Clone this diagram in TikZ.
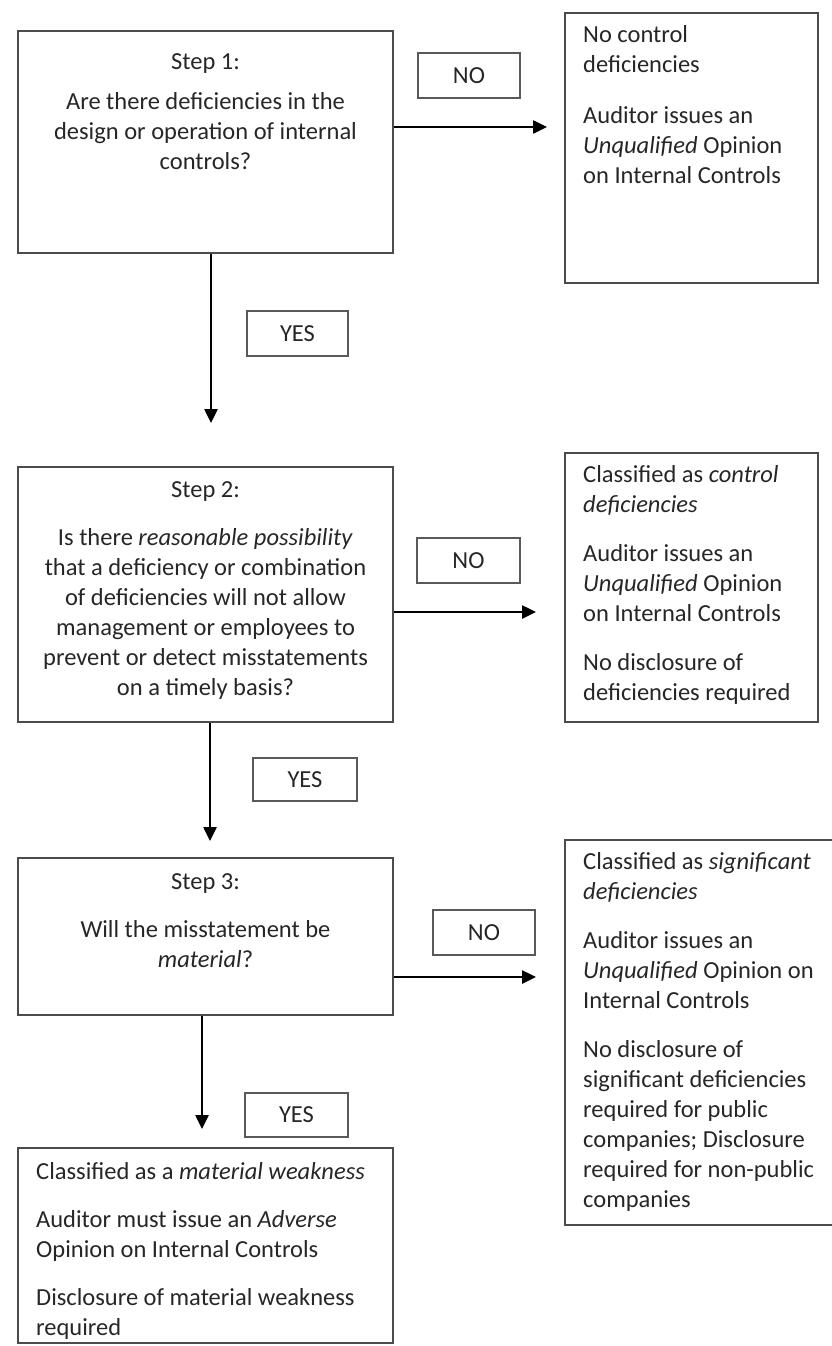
\documentclass[tikz,border=0pt]{standalone}
\usepackage{fontspec}
\setmainfont{Carlito}
\usetikzlibrary{arrows.meta}
\begin{document}
\begin{tikzpicture}[x=1pt,y=-1pt,
  box/.style={draw=black!70, line width=2pt, rectangle, inner sep=0pt},
  lbl/.style={draw=black!65, line width=1.5pt, rectangle, inner sep=0pt,
    font=\fontsize{24.5}{30}\selectfont, text=black!85},
  txt/.style={inner sep=0pt, font=\fontsize{24.5}{30}\selectfont, text=black!85},
  arr/.style={line width=2.5pt, -{Triangle[length=14pt,width=13pt]}}]
\useasboundingbox (0,0) rectangle (831,1346);
% main boxes
\node[box, minimum width=375pt, minimum height=222pt] (s1) at (205.5,142) {};
\node[box, minimum width=253pt, minimum height=270pt] (r1) at (691.5,148) {};
\node[box, minimum width=375pt, minimum height=255pt] (s2) at (205.5,594.5) {};
\node[box, minimum width=253pt, minimum height=269pt] (r2) at (691.5,587.5) {};
\node[box, minimum width=375pt, minimum height=157pt] (s3) at (205.5,936.5) {};
\node[box, minimum width=290pt, minimum height=385pt] (r3) at (710,1032.5) {};
\node[box, minimum width=375pt, minimum height=195pt] (b4) at (205.5,1245.5) {};
% labels
\node[lbl, minimum width=102pt, minimum height=45pt] (no1) at (469,75.5) {NO};
\node[lbl, minimum width=101pt, minimum height=45pt] (yes1) at (297.5,333.5) {YES};
\node[lbl, minimum width=103pt, minimum height=45pt] (no2) at (468.5,560.5) {NO};
\node[lbl, minimum width=104pt, minimum height=43pt] (yes2) at (305,779.5) {YES};
\node[lbl, minimum width=102pt, minimum height=45pt] (no3) at (484,932.5) {NO};
\node[lbl, minimum width=103pt, minimum height=44pt] (yes3) at (296.5,1115) {YES};
% texts
\node[txt, align=center, anchor=north] (t1) at (205.5,48)
  {\strut Step 1:\\[10pt] Are there deficiencies in the\\ design or operation of internal\\ controls?};
\node[txt, align=center, anchor=north] (t2) at (205.5,476)
  {\strut Step 2:\\[18pt] Is there \textit{reasonable possibility}\\ that a deficiency or combination\\ of deficiencies will not allow\\ management or employees to\\ prevent or detect misstatements\\ on a timely basis?};
\node[txt, align=center, anchor=north] (t3) at (205.5,868)
  {\strut Step 3:\\[18pt] Will the misstatement be\\ \textit{material}?};
\node[txt, align=left, anchor=north west] (u1) at (583,21)
  {\strut No control\\ deficiencies\\[21pt] Auditor issues an\\ \textit{Unqualified} Opinion\\ on Internal Controls};
\node[txt, align=left, anchor=north west] (u2) at (583,461)
  {\strut Classified as \textit{control}\\ \textit{deficiencies}\\[19pt] Auditor issues an\\ \textit{Unqualified} Opinion\\ on Internal Controls\\[19pt] No disclosure of\\ deficiencies required};
\node[txt, align=left, anchor=north west] (u3) at (583,848)
  {\strut Classified as \textit{significant}\\ \textit{deficiencies}\\[19pt] Auditor issues an\\ \textit{Unqualified} Opinion on\\ Internal Controls\\[19pt] No disclosure of\\ significant deficiencies\\ required for public\\ companies; Disclosure\\ required for non-public\\ companies};
\node[txt, align=left, anchor=north west] (u4) at (36,1158)
  {\strut Classified as a \textit{material weakness}\\[18pt] Auditor must issue an \textit{Adverse}\\ Opinion on Internal Controls\\[18pt] Disclosure of material weakness\\ required};
% arrows
\draw[arr, shorten >=17pt] ([yshift=15pt]s1.east) -- ([yshift=15pt]s1.east -| r1.west);
\draw[arr, shorten >=28pt] ([yshift=-17.5pt]s2.east) -- ([yshift=-17.5pt]s2.east -| r2.west);
\draw[arr, shorten >=28pt] ([yshift=-40.5pt]s3.east) -- ([yshift=-40.5pt]s3.east -| r3.west);
\draw[arr, shorten >=43pt] ([xshift=5.5pt]s1.south) -- ([xshift=5.5pt]s1.south |- s2.north);
\draw[arr, shorten >=16pt] ([xshift=4.5pt]s2.south) -- ([xshift=4.5pt]s2.south |- s3.north);
\draw[arr, shorten >=18pt] ([xshift=-3.5pt]s3.south) -- ([xshift=-3.5pt]s3.south |- b4.north);
\end{tikzpicture}
\end{document}
